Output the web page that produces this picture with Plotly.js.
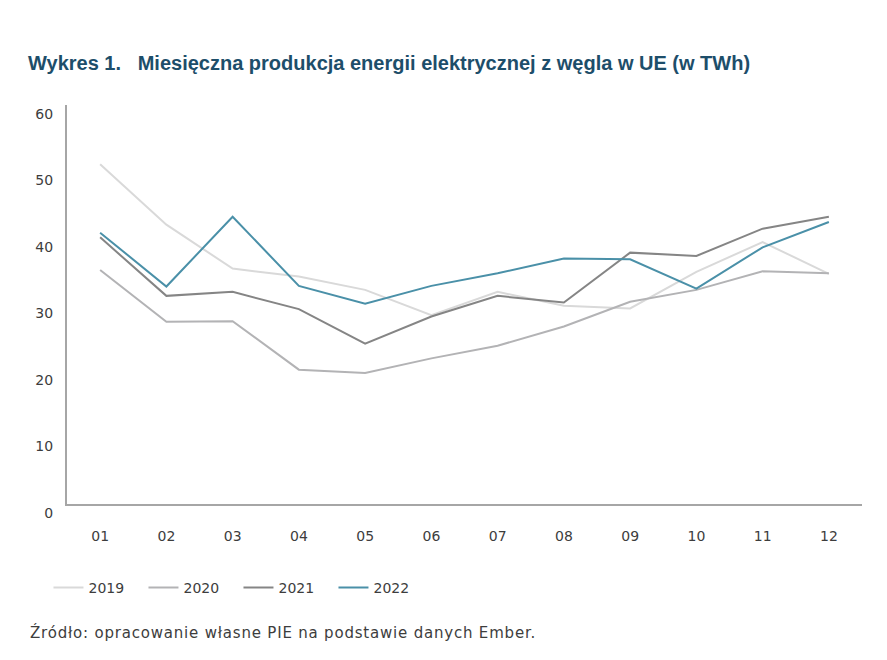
<!DOCTYPE html>
<html>
<head>
<meta charset="utf-8">
<script src="https://cdn.plot.ly/plotly-3.0.1.min.js"></script>
<style>
  html, body { margin: 0; padding: 0; background: #ffffff; }
  #chart { width: 887px; height: 660px; }
  #chart .annotation-text { letter-spacing: 0.8px; }
</style>
</head>
<body>
<div id="chart"></div>
<script>
const months = ["01","02","03","04","05","06","07","08","09","10","11","12"];
const v2019 = [51.1, 42.0, 35.4, 34.2, 32.2, 28.4, 31.9, 29.8, 29.4, 34.9, 39.4, 34.6];
const v2020 = [35.2, 27.4, 27.5, 20.2, 19.7, 21.9, 23.8, 26.7, 30.4, 32.2, 35.0, 34.7];
const v2021 = [40.1, 31.3, 31.9, 29.3, 24.1, 28.2, 31.3, 30.3, 37.8, 37.3, 41.4, 43.2];
const v2022 = [40.8, 32.7, 43.2, 32.8, 30.1, 32.8, 34.7, 36.9, 36.8, 32.4, 38.6, 42.4];
const seriesNames = ["2019", "2020", "2021", "2022"];
const seriesColors = ["#d9d9d9", "#b3b3b5", "#858585", "#4a90a8"];
const yTicks = [0, 10, 20, 30, 40, 50, 60];

const titleText = "Wykres 1.&nbsp;&nbsp;&nbsp;Miesięczna produkcja energii elektrycznej z węgla w UE (w TWh)";
const sourceText = "Źródło: opracowanie własne PIE na podstawie danych Ember.";

const allValues = [v2019, v2020, v2021, v2022];
const traces = allValues.map((vals, i) => ({
  type: "scatter",
  mode: "lines",
  x: months,
  y: vals,
  name: seriesNames[i],
  line: { color: seriesColors[i], width: 2 },
  hoverinfo: "x+y+name"
}));

const textFont = "'DejaVu Sans', 'Open Sans', sans-serif";
const textColor = "#3d3d3d";

const layout = {
  width: 887,
  height: 660,
  paper_bgcolor: "#ffffff",
  plot_bgcolor: "#ffffff",
  margin: { l: 67, r: 25, t: 105, b: 156 },
  showlegend: true,
  title: {
    text: titleText,
    xref: "container", yref: "container",
    x: 28 / 887, xanchor: "left",
    y: 1 - 63 / 660, yanchor: "middle",
    font: { family: "'Liberation Sans', Arial, sans-serif", size: 20, color: "#1d4e6a", weight: 700 }
  },
  xaxis: {
    type: "category",
    range: [-0.5, 11.5],
    showgrid: false,
    zeroline: false,
    showline: true,
    linecolor: "#a6a6a6",
    linewidth: 2,
    ticks: "",
    ticklabelstandoff: 18,
    tickfont: { family: textFont, size: 14, color: textColor }
  },
  yaxis: {
    range: [0, 60],
    tickvals: yTicks,
    ticktext: yTicks.map(String),
    showgrid: false,
    zeroline: false,
    showline: true,
    linecolor: "#a6a6a6",
    linewidth: 2,
    ticks: "",
    ticklabelstandoff: 9,
    ticklabelshift: 9,
    tickfont: { family: textFont, size: 14, color: textColor }
  },
  legend: {
    orientation: "h",
    x: -0.0233, xanchor: "left",
    y: -0.21, yanchor: "middle",
    entrywidth: 50,
    entrywidthmode: "pixels",
    font: { family: textFont, size: 14, color: textColor },
    itemwidth: 30,
    bgcolor: "rgba(0,0,0,0)"
  },
  annotations: [{
    text: sourceText,
    xref: "paper", yref: "paper",
    x: (28 - 67) / 795, xanchor: "left",
    y: (504 - 632) / 399, yanchor: "middle",
    align: "left",
    showarrow: false,
    font: { family: textFont, size: 15, color: textColor }
  }]
};

Plotly.newPlot("chart", traces, layout, { displayModeBar: false, staticPlot: true });
</script>
</body>
</html>
